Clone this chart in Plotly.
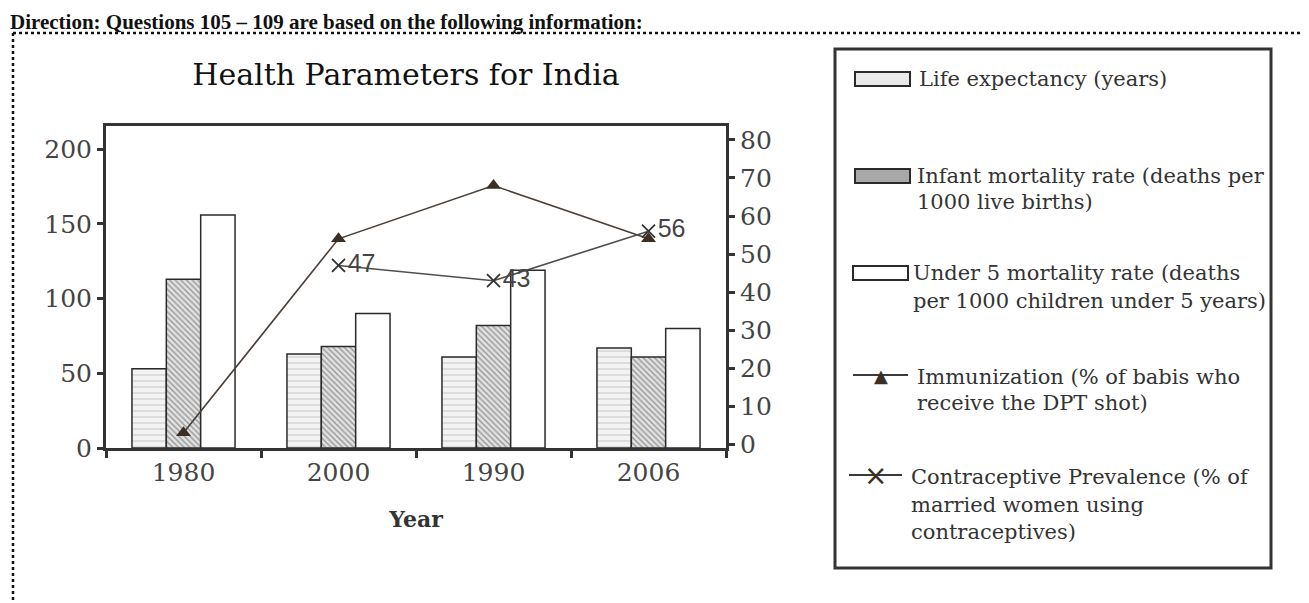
import plotly.graph_objects as go

# Data
years = ["1980", "2000", "1990", "2006"]
life_expectancy = [53, 63, 61, 67]
infant_mortality = [113, 68, 82, 61]
under5_mortality = [156, 90, 119, 80]
immunization = [3, 54, 68, 54]
contraceptive = [None, 47, 43, 56]

legend_lines = [
    ["Life expectancy (years)"],
    ["Infant mortality rate (deaths per", "1000 live births)"],
    ["Under 5 mortality rate (deaths", "per 1000 children under 5 years)"],
    ["Immunization (% of babis who", "receive the DPT shot)"],
    ["Contraceptive Prevalence (% of", "married women using", "contraceptives)"],
]

# the page body has an 8px margin; positions below are page pixels
OFF = 8
W, H = 1309 - OFF, 603 - OFF
L, R, T, B = 106, 726, 126, 448
PW, PH = R - L, B - T

SERIF = "DejaVu Serif"
AX = "#333333"


def px(x):
    return (x - L) / PW


def py(y):
    return (B - y) / PH


fig = go.Figure()
bar_line = dict(color="#2a2a2a", width=1.5)
fig.add_trace(go.Bar(
    x=years, y=life_expectancy, name=legend_lines[0][0],
    marker=dict(color="#efefef", line=bar_line,
                pattern=dict(shape="-", fgcolor="#b5b5b5", bgcolor="#f3f3f3", size=6, solidity=0.25)),
))
fig.add_trace(go.Bar(
    x=years, y=infant_mortality, name="Infant mortality rate",
    marker=dict(color="#bdbdbd", line=bar_line,
                pattern=dict(shape="\\", fgcolor="#4a4a4a", bgcolor="#e2e2e2", size=4, solidity=0.35)),
))
fig.add_trace(go.Bar(
    x=years, y=under5_mortality, name="Under 5 mortality rate",
    marker=dict(color="white", line=bar_line),
))
fig.add_trace(go.Scatter(
    x=years, y=immunization, yaxis="y2", mode="lines+markers", name="Immunization",
    line=dict(color="#4b4039", width=1.6),
    marker=dict(symbol="triangle-up", size=13, color="#3b2e25"),
))
fig.add_trace(go.Scatter(
    x=years, y=contraceptive, yaxis="y2", mode="lines+markers+text", name="Contraceptive Prevalence",
    line=dict(color="#4e4e4e", width=1.6),
    marker=dict(symbol="x-thin", size=13, line=dict(color="#333333", width=1.8)),
    text=["" if v is None else str(v) for v in contraceptive],
    textposition="middle right",
    textfont=dict(family="Liberation Sans", size=25, color="#444444"),
))

shapes = []
annotations = []

# manual legend box
shapes.append(dict(type="rect", xref="paper", yref="paper",
                   x0=px(835), x1=px(1271), y0=py(568), y1=py(49),
                   line=dict(color=AX, width=3), fillcolor="rgba(0,0,0,0)"))

patch_fill = ["#e9e9e9", "#a9a9a9", "white"]
item_y = [[79], [176, 202], [273, 301], [377, 403], [477, 505, 532]]
text_x = [917, 915, 911, 915, 909]
for i in range(3):
    yc = item_y[i][0]
    x0 = 855 if i < 2 else 853
    shapes.append(dict(type="rect", xref="paper", yref="paper",
                       x0=px(x0), x1=px(x0 + 55), y0=py(yc + 7), y1=py(yc - 7),
                       line=dict(color="#2a2a2a", width=2), fillcolor=patch_fill[i]))
for i, (x0, x1, sym, size) in zip([3, 4], [(853, 908, "▲", 18), (849, 902, "×", 28)]):
    yc = item_y[i][0] - 2
    shapes.append(dict(type="line", xref="paper", yref="paper",
                       x0=px(x0), x1=px(x1), y0=py(yc), y1=py(yc),
                       line=dict(color="#3a3a3a", width=2)))
    annotations.append(dict(xref="paper", yref="paper", x=px((x0 + x1) / 2), y=py(yc),
                            text=sym, showarrow=False, xanchor="center", yanchor="middle",
                            font=dict(family="DejaVu Sans", size=size, color="#3b2e25")))
for i, lines in enumerate(legend_lines):
    for ln, yc in zip(lines, item_y[i]):
        annotations.append(dict(xref="paper", yref="paper", x=px(text_x[i]), y=py(yc),
                                text=ln, showarrow=False, xanchor="left", yanchor="middle",
                                font=dict(family=SERIF, size=21, color="#333333")))

# heading above the dotted page frame
FRAME_TOP = 33
annotations.append(dict(xref="paper", yref="paper", x=px(OFF), y=py(OFF), xanchor="left", yanchor="top",
                        text="<b>Direction: Questions 105 – 109 are based on the following information:</b>",
                        showarrow=False, font=dict(family="Liberation Serif", size=21, color="#111111")))
shapes.append(dict(type="line", xref="paper", yref="paper", x0=px(13), x1=px(1307),
                   y0=py(FRAME_TOP), y1=py(FRAME_TOP),
                   line=dict(color="#111111", width=2.5, dash="dot")))
shapes.append(dict(type="line", xref="paper", yref="paper", x0=px(13), x1=px(13),
                   y0=py(FRAME_TOP), y1=py(620),
                   line=dict(color="#111111", width=2.5, dash="dot")))
shapes.append(dict(type="line", xref="paper", yref="paper", x0=px(1306), x1=px(1306),
                   y0=py(FRAME_TOP), y1=py(620),
                   line=dict(color="#999999", width=1, dash="dash")))

tick_font = dict(family=SERIF, size=25, color="#444444")
fig.update_layout(
    width=W, height=H,
    margin=dict(l=L - OFF, r=W + OFF - R, t=T - OFF, b=H + OFF - B),
    paper_bgcolor="white", plot_bgcolor="white",
    barmode="group", bargap=0.335, bargroupgap=0,
    showlegend=False,
    title=dict(text="Health Parameters for India", xref="paper", x=px(406), xanchor="center",
               yref="container", y=1 - (74 - OFF) / H, yanchor="middle",
               font=dict(family=SERIF, size=30, color="#111111")),
    xaxis=dict(type="category", showline=True, linecolor=AX, linewidth=3, mirror=True,
               ticks="outside", tickson="boundaries", ticklen=7, tickwidth=3, tickcolor=AX,
               tickfont=tick_font, showgrid=False,
               title=dict(text="<b>Year</b>", standoff=26, font=dict(family=SERIF, size=22, color="#333333"))),
    yaxis=dict(range=[0, 215.6], dtick=50, showline=True, linecolor=AX, linewidth=3,
               ticks="outside", ticklen=6, tickwidth=3, tickcolor=AX, tickfont=tick_font,
               showgrid=False, zeroline=False),
    yaxis2=dict(overlaying="y", side="right", range=[-0.98, 83.66], dtick=10, showline=True,
                linecolor=AX, linewidth=3, ticks="outside", ticklen=6, tickwidth=3, tickcolor=AX,
                tickfont=tick_font, showgrid=False, zeroline=False),
    shapes=shapes,
    annotations=annotations,
)

fig.write_html("out.html")
